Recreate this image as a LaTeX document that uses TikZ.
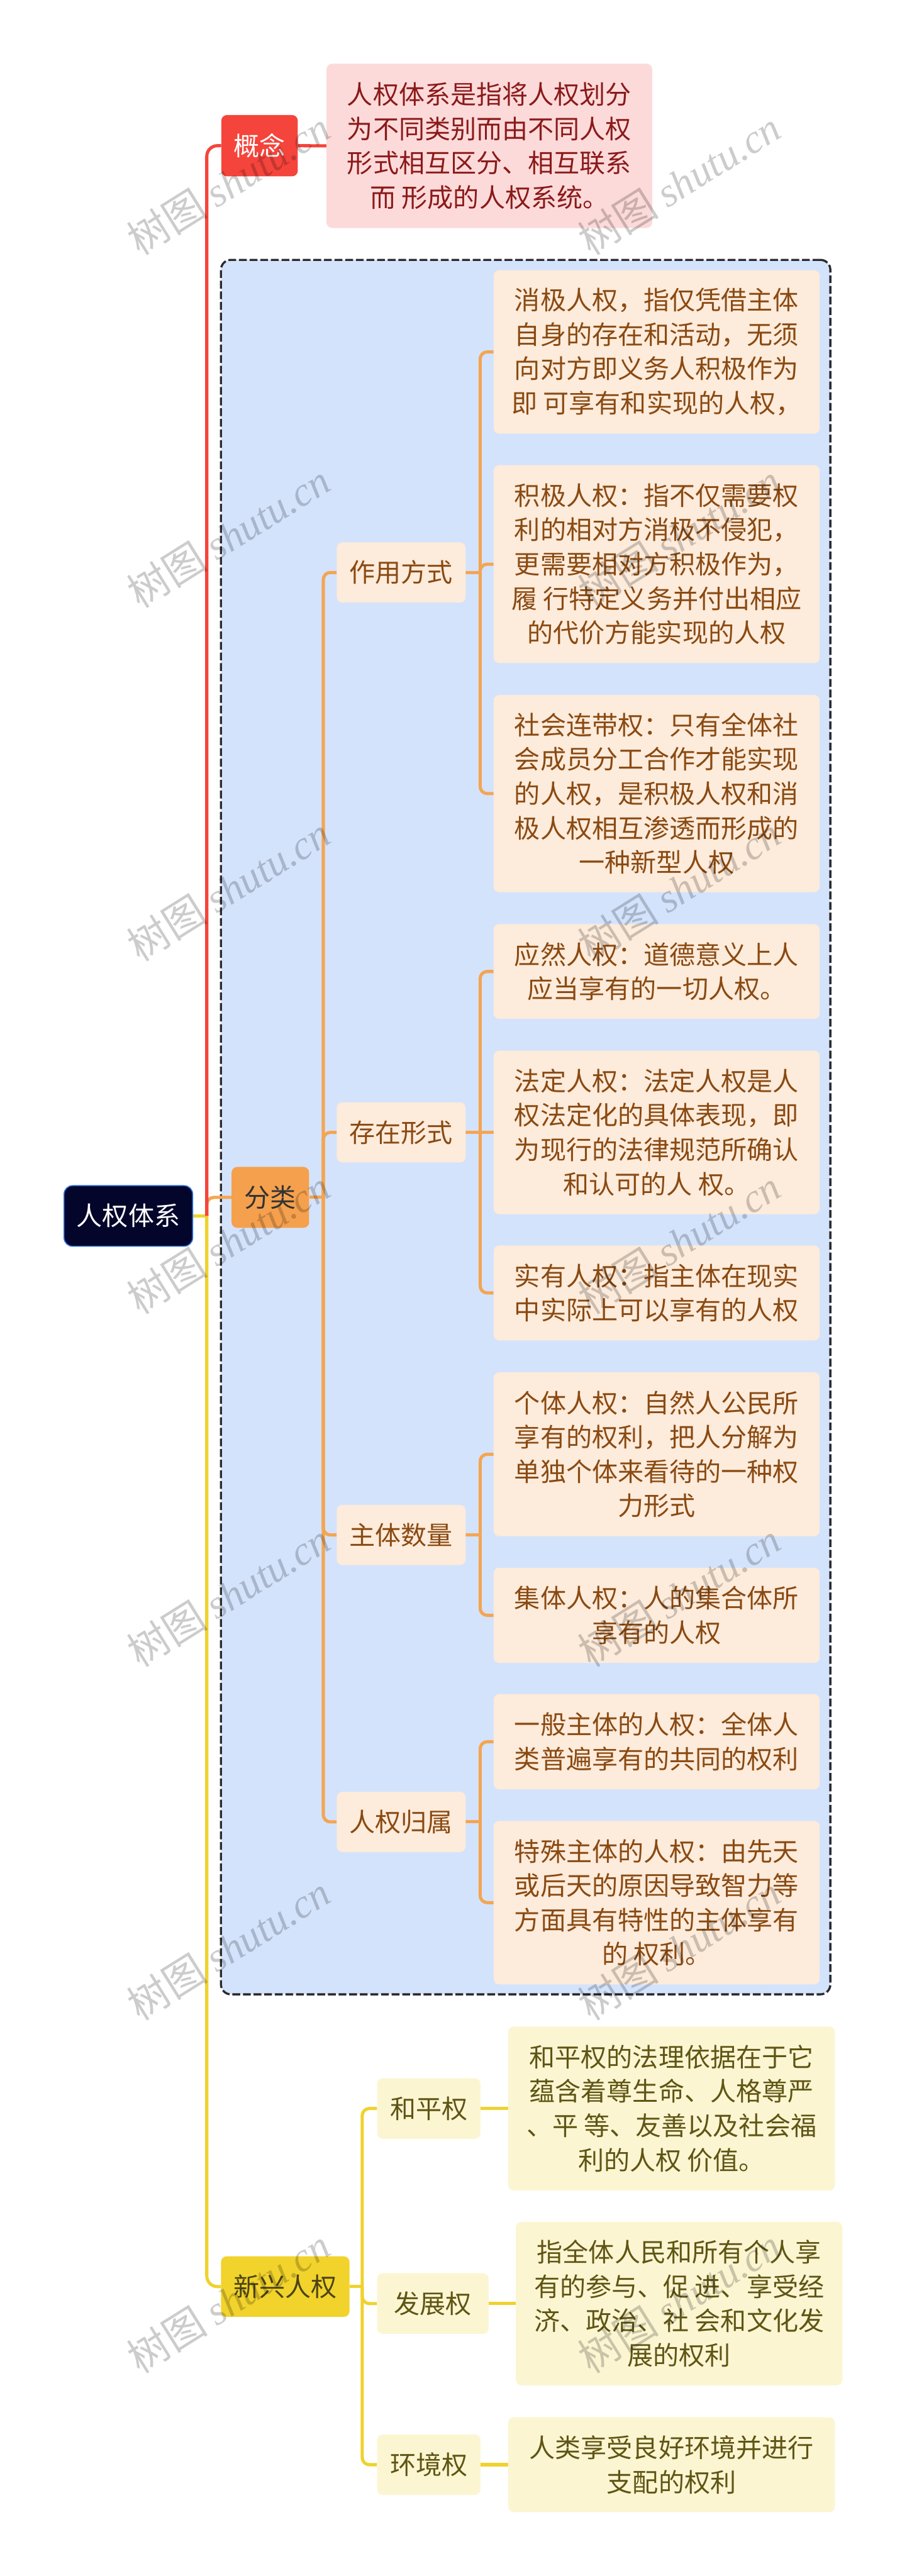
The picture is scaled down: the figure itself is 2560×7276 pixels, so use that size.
\documentclass[tikz,border=0pt]{standalone}
\usepackage{fontspec}
\setmainfont{Noto Sans CJK SC}
\newfontfamily\wmlat{Liberation Serif}
\pgfdeclarelayer{bg}
\pgfsetlayers{bg,main}
\definecolor{rootfill}{HTML}{03052B}
\definecolor{rootline}{HTML}{2E6CD8}
\definecolor{redc}{HTML}{F5443B}
\definecolor{pinkf}{HTML}{FDDADA}
\definecolor{pinkt}{HTML}{8B1A1A}
\definecolor{orc}{HTML}{F5A04D}
\definecolor{orl}{HTML}{F4A552}
\definecolor{peach}{HTML}{FDEBDB}
\definecolor{brownt}{HTML}{8A4A12}
\definecolor{bluef}{HTML}{D4E3FC}
\definecolor{dashc}{HTML}{2B2B2E}
\definecolor{yelc}{HTML}{F2D32C}
\definecolor{yell}{HTML}{F0D22E}
\definecolor{paley}{HTML}{FCF5D2}
\definecolor{olivet}{HTML}{5F5514}
\definecolor{olived}{HTML}{4B4415}
\definecolor{darkt}{HTML}{333333}
\begin{document}
\begin{tikzpicture}[x=1pt,y=-1pt,
 nd/.style={rounded corners=16pt, inner sep=0pt, align=center, font=\fontsize{73}{97}\selectfont},
 sz/.style 2 args={minimum width=#1pt, minimum height=#2pt},
 rootn/.style={nd, fill=rootfill, draw=rootline, line width=3pt, text=white, rounded corners=24pt},
 redn/.style={nd, fill=redc, text=white},
 pinkn/.style={nd, fill=pinkf, text=pinkt},
 orn/.style={nd, fill=orc, text=darkt},
 peachn/.style={nd, fill=peach, text=brownt},
 yeln/.style={nd, fill=yelc, text=olived},
 paleyn/.style={nd, fill=paley, text=olivet},
 rl/.style={draw=redc, line width=9pt},
 ol/.style={draw=orl, line width=9pt},
 yl/.style={draw=yell, line width=9pt},
 wm/.style={text=black, text opacity=0.2, rotate=32, inner sep=0pt, font=\fontsize{115}{120}\selectfont},
]
\useasboundingbox (0,0) rectangle (2560,7276);

% main nodes
\node[rootn, sz={363}{171}] (root) at (362.5,3434.5) {人权体系};
\node[redn, sz={216}{173}] (gn) at (733,411.5) {概念};
\node[pinkn, sz={920}{464}] (gnd) at (1382,412) {人权体系是指将人权划分\\为不同类别而由不同人权\\形式相互区分、相互联系\\而 形成的人权系统。};
\node[orn, sz={219}{172}] (fl) at (763.5,3382) {分类};
\node[yeln, sz={363}{171}] (xx) at (805.5,6458.5) {新兴人权};

% orange subs
\node[peachn, sz={364}{170}] (zy) at (1133,1617) {作用方式};
\node[peachn, sz={364}{170}] (cz) at (1133,3198.5) {存在形式};
\node[peachn, sz={364}{170}] (zt) at (1133,4335.5) {主体数量};
\node[peachn, sz={364}{170}] (gs) at (1133,5146) {人权归属};

% orange leaves
\node[peachn, sz={921}{462}] (a1) at (1854.5,994) {消极人权，指仅凭借主体\\自身的存在和活动，无须\\向对方即义务人积极作为\\即 可享有和实现的人权，};
\node[peachn, sz={921}{559}] (a2) at (1854.5,1593.5) {积极人权：指不仅需要权\\利的相对方消极不侵犯，\\更需要相对方积极作为，\\履 行特定义务并付出相应\\的代价方能实现的人权};
\node[peachn, sz={921}{557}] (a3) at (1854.5,2241.5) {社会连带权：只有全体社\\会成员分工合作才能实现\\的人权，是积极人权和消\\极人权相互渗透而形成的\\一种新型人权};
\node[peachn, sz={921}{268}] (b1) at (1854.5,2744) {应然人权：道德意义上人\\应当享有的一切人权。};
\node[peachn, sz={921}{462}] (b2) at (1854.5,3198.5) {法定人权：法定人权是人\\权法定化的具体表现，即\\为现行的法律规范所确认\\和认可的人 权。};
\node[peachn, sz={921}{268}] (b3) at (1854.5,3652) {实有人权：指主体在现实\\中实际上可以享有的人权};
\node[peachn, sz={921}{463}] (c1) at (1854.5,4107.5) {个体人权：自然人公民所\\享有的权利，把人分解为\\单独个体来看待的一种权\\力形式};
\node[peachn, sz={921}{269}] (c2) at (1854.5,4562.5) {集体人权：人的集合体所\\享有的人权};
\node[peachn, sz={921}{269}] (d1) at (1854.5,4919.5) {一般主体的人权：全体人\\类普遍享有的共同的权利};
\node[peachn, sz={921}{462}] (d2) at (1854.5,5374) {特殊主体的人权：由先天\\或后天的原因导致智力等\\方面具有特性的主体享有\\的 权利。};

% yellow subs
\node[paleyn, sz={292}{171}] (hp) at (1211,5955.5) {和平权};
\node[paleyn, sz={315}{171}] (fz) at (1222.5,6506.5) {发展权};
\node[paleyn, sz={292}{171}] (hj) at (1211,6961.5) {环境权};

% yellow leaves
\node[paleyn, sz={923}{463}] (e1) at (1896.5,5955.5) {和平权的法理依据在于它\\蕴含着尊生命、人格尊严\\、平 等、友善以及社会福\\利的人权 价值。};
\node[paleyn, sz={922}{462}] (e2) at (1918,6506.5) {指全体人民和所有个人享\\有的参与、促 进、享受经\\济、政治、社 会和文化发\\展的权利};
\node[paleyn, sz={923}{268}] (e3) at (1896.5,6961.5) {人类享受良好环境并进行\\支配的权利};

\begin{pgfonlayer}{bg}
\fill[white] (0,0) rectangle (2560,7276);
\node[draw=dashc, fill=bluef, dash pattern=on 22pt off 8pt, line width=6pt, rounded corners=28pt, minimum width=1721pt, minimum height=4899pt, inner sep=0pt] (grp) at (1484.5,3183.5) {};

\coordinate (jn) at (584,3434.5);
\draw[yl] (root.east) -- (jn);
\draw[ol, rounded corners=20pt] (jn) |- (fl.west);
\draw[yl, rounded corners=30pt] (jn) |- (xx.west);
\draw[rl, rounded corners=30pt] (jn) |- (gn.west);
\draw[rl] (gn.east) -- (gnd.west);

\coordinate (ft) at (913,3382);
\draw[ol] (fl.east) -- (ft);
\foreach \s in {zy,cz,zt,gs} \draw[ol, rounded corners=20pt] (ft) |- (\s.west);

\coordinate (zyb) at (1356,1617);
\draw[ol] (zy.east) -- (zyb);
\foreach \l in {a1,a2,a3} \draw[ol, rounded corners=20pt] (zyb) |- (\l.west);

\coordinate (czb) at (1356,3198.5);
\draw[ol] (cz.east) -- (czb);
\draw[ol, rounded corners=20pt] (czb) |- (b1.west);
\draw[ol] (czb) -- (b2.west);
\draw[ol, rounded corners=20pt] (czb) |- (b3.west);

\coordinate (ztb) at (1356,4335.5);
\draw[ol] (zt.east) -- (ztb);
\foreach \l in {c1,c2} \draw[ol, rounded corners=20pt] (ztb) |- (\l.west);

\coordinate (gsb) at (1356,5146);
\draw[ol] (gs.east) -- (gsb);
\foreach \l in {d1,d2} \draw[ol, rounded corners=20pt] (gsb) |- (\l.west);

\coordinate (xxb) at (1023,6458.5);
\draw[yl] (xx.east) -- (xxb);
\foreach \s in {hp,fz,hj} \draw[yl, rounded corners=20pt] (xxb) |- (\s.west);
\draw[yl] (hp.east) -- (e1.west);
\draw[yl] (fz.east) -- (e2.west);
\draw[yl] (hj.east) -- (e3.west);
\end{pgfonlayer}

% watermarks
\foreach \i in {0,...,6} {
  \node[wm] (wl\i) at (645,517+997*\i) {树图 {\wmlat\itshape shutu.cn}};
  \node[wm] (wr\i) at (1918,517+997*\i) {树图 {\wmlat\itshape shutu.cn}};
}
\end{tikzpicture}
\end{document}
